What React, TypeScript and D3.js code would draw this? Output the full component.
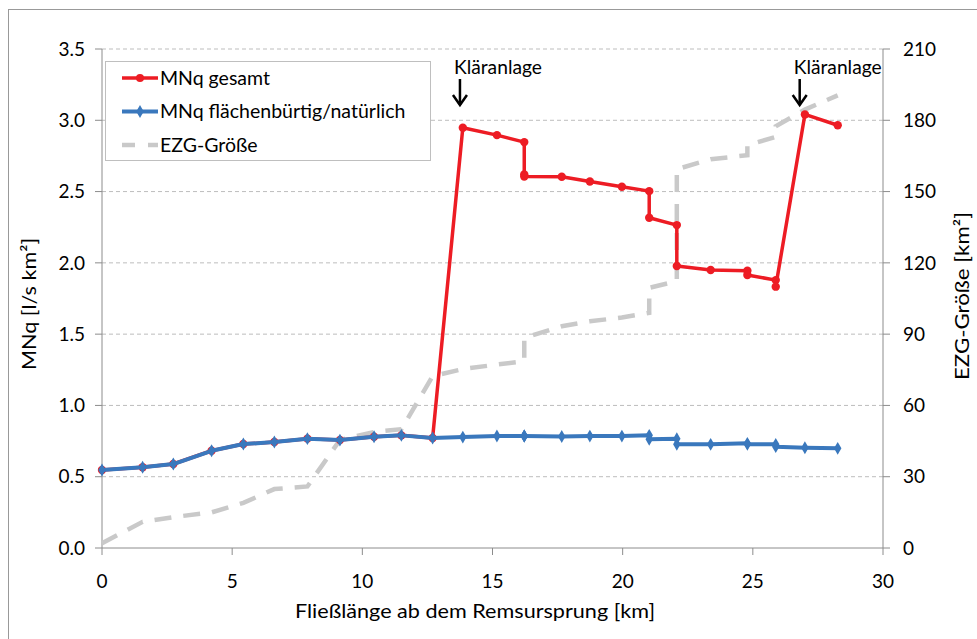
import React from "react";
import * as d3 from "d3";

// Fließlänge [km] for both MNq series
const km = [0, 1.56, 2.74, 4.21, 5.43, 6.62, 7.89, 9.14, 10.45, 11.5, 12.7, 13.86, 15.17, 16.22, 16.22, 16.22, 17.66, 18.74, 19.97, 21.02, 21.02, 22.08, 22.08, 23.38, 24.79, 24.79, 25.88, 25.88, 27.0, 28.26];
const mnqGesamt = [0.547, 0.566, 0.589, 0.682, 0.729, 0.743, 0.767, 0.757, 0.78, 0.79, 0.772, 2.948, 2.896, 2.847, 2.62, 2.605, 2.604, 2.571, 2.534, 2.503, 2.316, 2.265, 1.978, 1.95, 1.945, 1.915, 1.879, 1.833, 3.041, 2.965];
const mnqNatuerlich = [0.547, 0.566, 0.589, 0.682, 0.729, 0.743, 0.767, 0.757, 0.78, 0.79, 0.772, 0.778, 0.786, 0.786, 0.786, 0.786, 0.782, 0.785, 0.785, 0.79, 0.762, 0.766, 0.727, 0.727, 0.734, 0.728, 0.727, 0.711, 0.703, 0.699];

// EZG-Größe [km²]
const ezgKm = [0, 1.56, 2.74, 4.21, 5.43, 6.62, 7.89, 9.14, 10.45, 11.5, 12.7, 13.86, 15.17, 16.22, 16.22, 17.66, 18.74, 19.97, 21.02, 21.02, 22.08, 22.08, 23.38, 24.79, 24.79, 25.88, 25.88, 27.0, 28.26];
const ezg = [2, 11, 13, 15, 19, 24.8, 25.9, 45.5, 48.8, 50, 72.3, 75.3, 77.2, 78.6, 88.4, 93.3, 95.4, 97, 99, 109.5, 112.3, 159.4, 163.6, 165.3, 169.5, 173, 177.5, 184.5, 190.5];

const xTicks = [0, 5, 10, 15, 20, 25, 30];
const yTicks = [0, 0.5, 1, 1.5, 2, 2.5, 3, 3.5];
const y2Ticks = [0, 30, 60, 90, 120, 150, 180, 210];
const annotations = [13.75, 26.8];

const seriesNames = ["MNq gesamt", "MNq flächenbürtig/natürlich", "EZG-Größe"];

const RED = "#ed1c24";
const BLUE = "#3a78bd";
const GREY = "#c9c9c9";
const FONT = "Lato, 'Open Sans', sans-serif";

export default function App() {
  const width = 977;
  const height = 639;
  const margin = { top: 49, right: 94, bottom: 91, left: 102 };
  const innerW = width - margin.left - margin.right;
  const innerH = height - margin.top - margin.bottom;

  const x = d3.scaleLinear().domain([0, 30]).range([margin.left, margin.left + innerW]);
  const y = d3.scaleLinear().domain([0, 3.5]).range([margin.top + innerH, margin.top]);
  const y2 = d3.scaleLinear().domain([0, 210]).range([margin.top + innerH, margin.top]);

  const lineL = d3
    .line<[number, number]>()
    .x((d) => x(d[0]))
    .y((d) => y(d[1]));
  const lineR = d3
    .line<[number, number]>()
    .x((d) => x(d[0]))
    .y((d) => y2(d[1]));

  const red = km.map((k, i) => [k, mnqGesamt[i]] as [number, number]);
  const blue = km.map((k, i) => [k, mnqNatuerlich[i]] as [number, number]);
  const grey = ezgKm.map((k, i) => [k, ezg[i]] as [number, number]);

  const diamond = d3.symbol().type(d3.symbolDiamond).size(48)();
  const x0 = margin.left;
  const x1 = margin.left + innerW;
  const yb = margin.top + innerH;

  return (
    <svg
      width={width}
      height={height}
      style={{ position: "absolute", left: 0, top: 0, background: "#fff" }}
      fontFamily={FONT}
    >
      {/* outer chart border */}
      <rect x={8.5} y={9.5} width={width + 10} height={height + 10} fill="none" stroke="#999" />

      {/* gridlines */}
      {yTicks.slice(1).map((t) => (
        <line key={t} x1={x0} x2={x1} y1={y(t)} y2={y(t)} stroke="#bdbdbd" strokeDasharray="4,3" />
      ))}

      {/* axes */}
      <line x1={x0} x2={x0} y1={margin.top} y2={yb} stroke="#8c8c8c" />
      <line x1={x1} x2={x1} y1={margin.top} y2={yb} stroke="#8c8c8c" />
      <line x1={x0} x2={x1} y1={yb} y2={yb} stroke="#8c8c8c" />

      {yTicks.map((t) => (
        <g key={t}>
          <line x1={x0 - 7} x2={x0} y1={y(t)} y2={y(t)} stroke="#8c8c8c" />
          <text x={x0 - 17} y={y(t)} dy="0.35em" textAnchor="end" fontSize={19} fill="#000">
            {t.toFixed(1)}
          </text>
        </g>
      ))}
      {y2Ticks.map((t) => (
        <g key={t}>
          <line x1={x1} x2={x1 + 7} y1={y2(t)} y2={y2(t)} stroke="#8c8c8c" />
          <text x={x1 + 20} y={y2(t)} dy="0.35em" textAnchor="start" fontSize={19} fill="#000">
            {t}
          </text>
        </g>
      ))}
      {xTicks.map((t) => (
        <g key={t}>
          <line x1={x(t)} x2={x(t)} y1={yb} y2={yb + 7} stroke="#8c8c8c" />
          <text x={x(t)} y={yb + 33} dy="0.35em" textAnchor="middle" fontSize={19} fill="#000">
            {t}
          </text>
        </g>
      ))}

      {/* axis titles */}
      <text x={475} y={611} dy="0.35em" textAnchor="middle" fontSize={20} textLength={360} lengthAdjust="spacingAndGlyphs">
        Fließlänge ab dem Remsursprung [km]
      </text>
      <text transform="translate(29,304) rotate(-90)" dy="0.35em" textAnchor="middle" fontSize={19.5} textLength={132} lengthAdjust="spacingAndGlyphs">
        MNq [l/s km²]
      </text>
      <text transform="translate(962,296) rotate(-90)" dy="0.35em" textAnchor="middle" fontSize={19.5} textLength={168} lengthAdjust="spacingAndGlyphs">
        EZG-Größe [km²]
      </text>

      {/* series */}
      <path d={lineR(grey) ?? ""} fill="none" stroke={GREY} strokeWidth={4.5} strokeDasharray="17,12" />
      <path d={lineL(red) ?? ""} fill="none" stroke={RED} strokeWidth={3.5} strokeLinejoin="round" />
      {red.map((d, i) => (
        <circle key={i} cx={x(d[0])} cy={y(d[1])} r={4.2} fill={RED} />
      ))}
      <path d={lineL(blue) ?? ""} fill="none" stroke={BLUE} strokeWidth={4} strokeLinejoin="round" />
      {blue.map((d, i) => (
        <path key={i} d={diamond ?? ""} transform={`translate(${x(d[0])},${y(d[1])})`} fill={BLUE} />
      ))}

      {/* Kläranlage annotations */}
      {annotations.map((a) => (
        <g key={a}>
          <text x={x(a) - 6} y={67} dy="0.35em" textAnchor="start" fontSize={19.5} textLength={88} lengthAdjust="spacingAndGlyphs">
            Kläranlage
          </text>
          <line x1={x(a)} x2={x(a)} y1={79} y2={105} stroke="#000" strokeWidth={2.5} />
          <path
            d={`M${x(a) - 7},${95} L${x(a)},${105} L${x(a) + 7},${95}`}
            fill="none"
            stroke="#000"
            strokeWidth={2.5}
          />
        </g>
      ))}

      {/* legend */}
      <g>
        <rect x={105.5} y={61.5} width={325} height={99} fill="#fff" stroke="#bfbfbf" />
        {seriesNames.map((name, i) => {
          const ly = 78 + i * 33.5;
          return (
            <g key={name}>
              {i === 0 && (
                <>
                  <line x1={122} x2={158} y1={ly} y2={ly} stroke={RED} strokeWidth={3.5} />
                  <circle cx={140} cy={ly} r={4} fill={RED} />
                </>
              )}
              {i === 1 && (
                <>
                  <line x1={122} x2={158} y1={ly} y2={ly} stroke={BLUE} strokeWidth={4} />
                  <path d={diamond ?? ""} transform={`translate(140,${ly})`} fill={BLUE} />
                </>
              )}
              {i === 2 && (
                <line x1={122} x2={158} y1={ly} y2={ly} stroke={GREY} strokeWidth={4.5} strokeDasharray="13,13" />
              )}
              <text x={160} y={ly} dy="0.35em" fontSize={19.5}>
                {name}
              </text>
            </g>
          );
        })}
      </g>
    </svg>
  );
}
